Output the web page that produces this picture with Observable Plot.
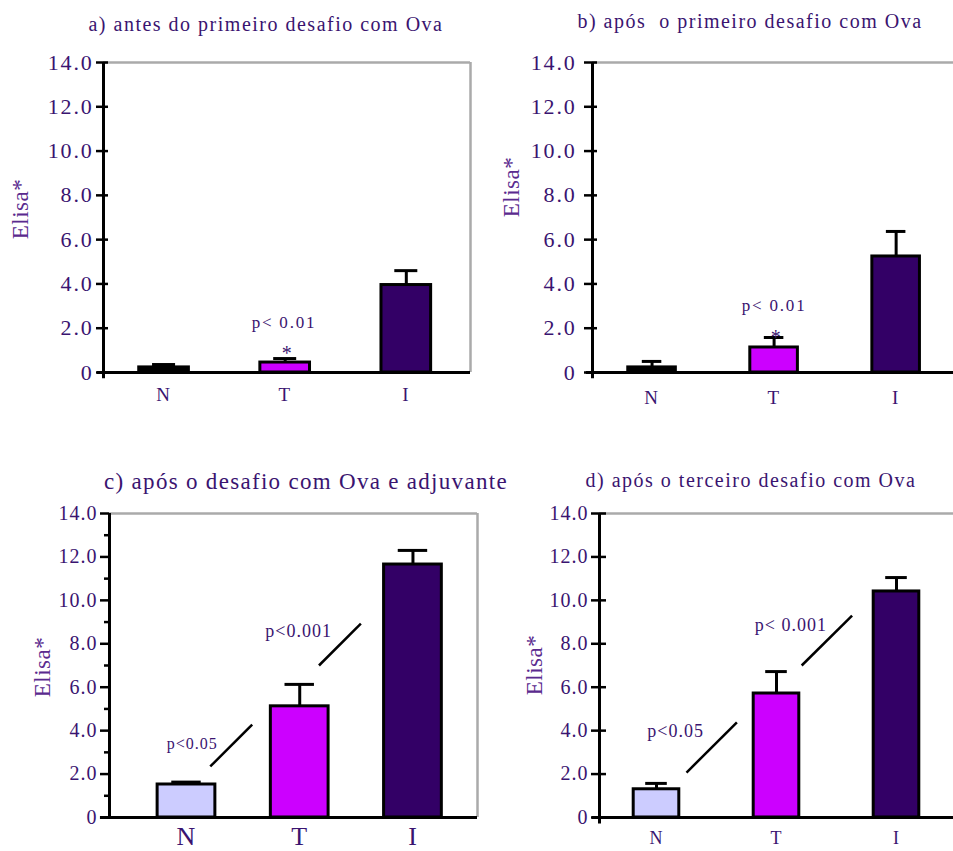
<!DOCTYPE html>
<html>
<head>
<meta charset="utf-8">
<script src="https://cdn.jsdelivr.net/npm/d3@7"></script>
<script src="https://cdn.jsdelivr.net/npm/@observablehq/plot@0.6"></script>
<style>
  html, body { margin: 0; padding: 0; background: #fff; overflow: hidden; }
  #root { position: relative; width: 953px; height: 851px; font-family: "Liberation Serif", "Times New Roman", serif; }
  .panel { position: absolute; }
  .title { position: absolute; white-space: pre; color: #3a1470; transform: translate(-50%, -50%); }
  .ylab { position: absolute; white-space: pre; color: #5a2a8e; font-size: 23px; letter-spacing: 0.5px; transform: translate(-50%, -50%) rotate(-90deg); }
  .panel text { letter-spacing: 1px; }
  .wide text { letter-spacing: 1.8px; }
</style>
</head>
<body>
<div id="root"></div>
<script>
// ---------- data ----------
const categories = ["N", "T", "I"];
const barColors = ["#ccccff", "#cc00ff", "#330066"];
const panelTitles = [
  "a) antes do primeiro desafio com Ova",
  "b) após  o primeiro desafio com Ova",
  "c) após o desafio com Ova e adjuvante",
  "d) após o terceiro desafio com Ova"
];
const yLabel = "Elisa*";
const yTicks = [0, 2, 4, 6, 8, 10, 12, 14];
const yTickLabels = ["0", "2.0", "4.0", "6.0", "8.0", "10.0", "12.0", "14.0"];
const yMinorTicks = [1, 3, 5, 7, 9, 11, 13];

// means and upper error (mean + SE) per group N, T, I
const meansA = [0.23, 0.45, 3.95];
const upperA = [0.36, 0.63, 4.6];
const meansB = [0.23, 1.13, 5.24];
const upperB = [0.5, 1.58, 6.37];
const meansC = [1.52, 5.12, 11.65];
const upperC = [1.63, 6.13, 12.3];
const meansD = [1.3, 5.71, 10.41];
const upperD = [1.57, 6.72, 11.05];

// significance annotations
const notesA = [{x: 1.99, y: 2.26, text: "p< 0.01", size: 17}, {x: 2.02, y: 0.85, text: "*", size: 20}];
const notesB = [{x: 2.0, y: 3.03, text: "p< 0.01", size: 17}, {x: 2.02, y: 1.58, text: "*", size: 20}];
const notesC = [{x: 1.05, y: 3.41, text: "p<0.05", size: 16}, {x: 1.99, y: 8.57, text: "p<0.001", size: 18}];
const notesD = [{x: 1.16, y: 3.96, text: "p<0.05", size: 18}, {x: 2.12, y: 8.84, text: "p< 0.001", size: 18}];
const slashesC = [{x1: 1.21, y1: 2.35, x2: 1.58, y2: 4.28}, {x1: 2.17, y1: 7.0, x2: 2.54, y2: 8.93}];
const slashesD = [{x1: 1.25, y1: 2.07, x2: 1.67, y2: 4.38}, {x1: 2.21, y1: 7.0, x2: 2.63, y2: 9.3}];

// ---------- layout ----------
const TEXT = "#3a1470";
const panels = [
  {title: panelTitles[0], means: meansA, upper: upperA, notes: notesA, slashes: [], nBarFill: "#000", cls: "wide",
   left: 0, top: 0, width: 480, height: 420, mt: 62, mb: 48, ml: 103, mr: 10, xdom: [0.5, 3.53],
   barW: 0.41, capW: 0.19, rightFrame: true, tickSize: 12, tickDx: 5, minor: false, tickFont: 22, tickPad: 10,
   catFont: 19, catPad: 15, axisExt: -0.28, baseExt: 0.05,
   titleX: 266, titleY: 24, titleFont: 20, titleLS: 1.5, ylabX: 21, ylabY: 209},
  {title: panelTitles[1], means: meansB, upper: upperB, notes: notesB, slashes: [], nBarFill: "#000", cls: "wide",
   left: 480, top: 0, width: 473, height: 420, mt: 62, mb: 48, ml: 112, mr: 0, xdom: [0.512, 3.47],
   barW: 0.39, capW: 0.16, rightFrame: false, tickSize: 13, tickDx: 5, minor: false, tickFont: 22, tickPad: 16,
   catFont: 19, catPad: 18, axisExt: -0.28, baseExt: 0.05,
   titleX: 750, titleY: 21, titleFont: 20, titleLS: 1.5, ylabX: 512, ylabY: 187},
  {title: panelTitles[2], means: meansC, upper: upperC, notes: notesC, slashes: slashesC, nBarFill: barColors[0], cls: "",
   left: 0, top: 430, width: 480, height: 421, mt: 83, mb: 34, ml: 109, mr: 3, xdom: [0.32, 3.57],
   barW: 0.51, capW: 0.26, rightFrame: true, tickSize: 9, tickDx: 0, minor: true, tickFont: 20, tickPad: 12,
   catFont: 26, catPad: 9, axisExt: 0, baseExt: 0.08,
   titleX: 306, titleY: 482, titleFont: 23, titleLS: 1.3, ylabX: 43, ylabY: 667},
  {title: panelTitles[3], means: meansD, upper: upperD, notes: notesD, slashes: slashesD, nBarFill: barColors[0], cls: "",
   left: 480, top: 430, width: 473, height: 421, mt: 83, mb: 34, ml: 119, mr: 0, xdom: [0.525, 3.475],
   barW: 0.38, capW: 0.18, rightFrame: false, tickSize: 15, tickDx: 7, minor: false, tickFont: 20, tickPad: 11,
   catFont: 18, catPad: 14, axisExt: -0.3, baseExt: 0.06,
   titleX: 751, titleY: 480, titleFont: 20, titleLS: 1.5, ylabX: 535, ylabY: 665}
];

const root = document.getElementById("root");

panels.forEach((p) => {
  const data = categories.map((c, i) => ({
    cat: c, pos: i + 1, value: p.means[i], upper: p.upper[i],
    fill: i === 0 ? p.nBarFill : barColors[i]
  }));
  const [x0, x1] = p.xdom;
  const marks = [
    // frame (top / right) in grey
    Plot.ruleY([14], {x1: x0, x2: x1, stroke: "#aaaaaa", strokeWidth: 2.5}),
    p.rightFrame ? Plot.ruleX([x1], {y1: 0, y2: 14, stroke: "#aaaaaa", strokeWidth: 2.5}) : null,
    // error bars
    Plot.ruleX(data, {x: "pos", y1: "value", y2: "upper", stroke: "black", strokeWidth: 3}),
    Plot.ruleY(data, {y: "upper", x1: d => d.pos - p.capW / 2, x2: d => d.pos + p.capW / 2, stroke: "black", strokeWidth: 3}),
    // bars
    Plot.rect(data, {x1: d => d.pos - p.barW / 2, x2: d => d.pos + p.barW / 2, y1: 0, y2: "value",
      fill: "fill", stroke: "black", strokeWidth: 3}),
    // axes lines
    Plot.ruleY([0], {x1: x0 - p.baseExt, x2: x1, stroke: "black", strokeWidth: 3}),
    Plot.ruleX([x0], {y1: p.axisExt, y2: 14, stroke: "black", strokeWidth: 3}),
    // y ticks
    Plot.axisY({ticks: yTicks, tickSize: p.tickSize, dx: p.tickDx, tickFormat: () => "", stroke: "black", strokeWidth: 2.5}),
    p.minor ? Plot.axisY({ticks: yMinorTicks, tickSize: 5, tickFormat: () => "", stroke: "black", strokeWidth: 2.5}) : null,
    Plot.axisY({ticks: yTicks, tickSize: 0, tickPadding: p.tickPad, fontSize: p.tickFont, fill: TEXT,
      tickFormat: d => yTickLabels[yTicks.indexOf(d)]}),
    // category labels
    Plot.axisX({ticks: [1, 2, 3], tickSize: 0, tickPadding: p.catPad, fontSize: p.catFont, fill: TEXT,
      tickFormat: d => categories[d - 1]}),
    // annotations
    Plot.link(p.slashes, {x1: "x1", y1: "y1", x2: "x2", y2: "y2", stroke: "black", strokeWidth: 2.5}),
    ...p.notes.map(n => Plot.text([n], {x: "x", y: "y", text: "text", fontSize: n.size, fill: TEXT}))
  ].filter(Boolean);

  const svg = Plot.plot({
    width: p.width, height: p.height,
    marginTop: p.mt, marginBottom: p.mb, marginLeft: p.ml, marginRight: p.mr,
    x: {type: "linear", domain: p.xdom},
    y: {type: "linear", domain: [0, 14]},
    style: {fontFamily: '"Liberation Serif", "Times New Roman", serif', overflow: "visible", background: "transparent"},
    marks
  });
  const holder = document.createElement("div");
  holder.className = "panel " + p.cls;
  holder.style.left = p.left + "px";
  holder.style.top = p.top + "px";
  holder.appendChild(svg);
  root.appendChild(holder);

  const t = document.createElement("div");
  t.className = "title";
  t.textContent = p.title;
  t.style.left = p.titleX + "px";
  t.style.top = p.titleY + "px";
  t.style.fontSize = p.titleFont + "px";
  t.style.letterSpacing = p.titleLS + "px";
  root.appendChild(t);

  const yl = document.createElement("div");
  yl.className = "ylab";
  yl.textContent = yLabel;
  yl.style.left = p.ylabX + "px";
  yl.style.top = p.ylabY + "px";
  root.appendChild(yl);
});
</script>
</body>
</html>
